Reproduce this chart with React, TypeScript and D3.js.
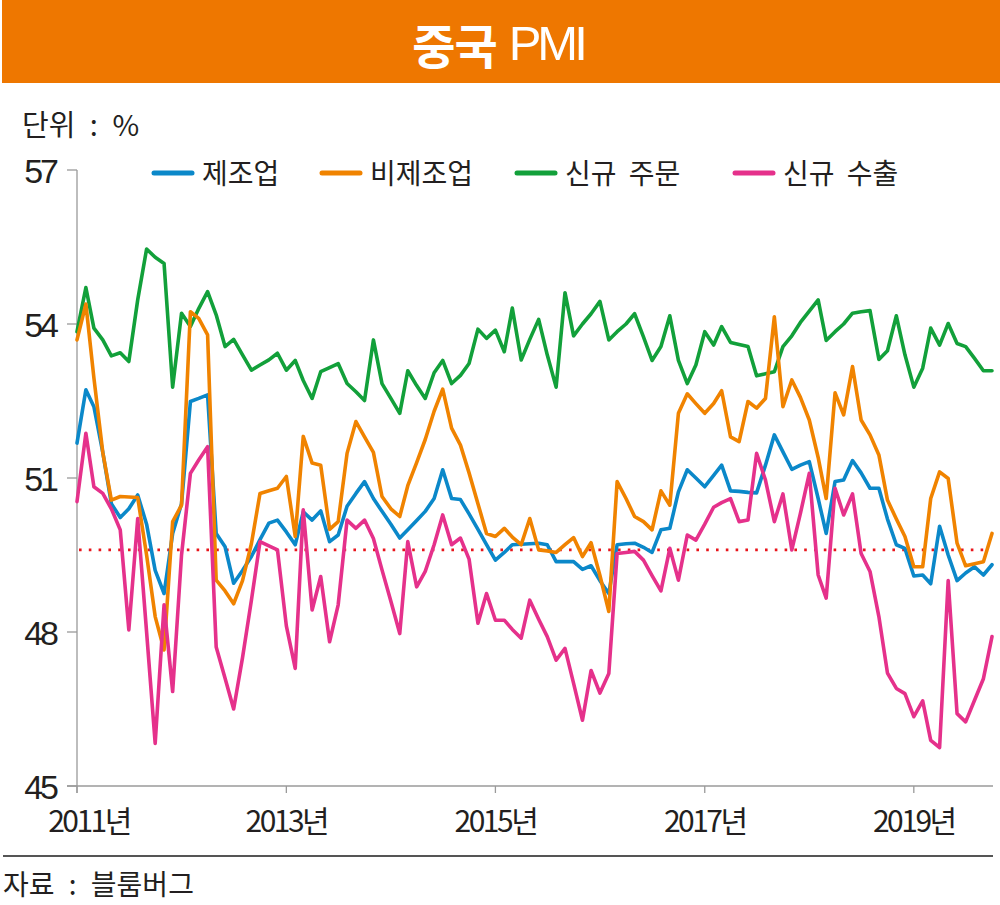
import React from "react";
import * as d3 from "d3";

// ---------- data ----------
const months: Date[] = d3.timeMonth.range(new Date(2011, 0, 1), new Date(2019, 10, 1)); // Jan 2011 .. Oct 2019

const manufacturing = [
  51.68, 52.72, 52.39, 51.5, 50.5, 50.23, 50.4, 50.67, 50.1, 49.2, 48.75, 49.92,
  50.5, 52.49, 52.55, 52.62, 49.92, 49.66, 48.95, 49.2, 49.47, 49.8, 50.12, 50.18,
  49.95, 49.7, 50.34, 50.18, 50.36, 49.76, 49.89, 50.45, 50.7, 50.93, 50.6, 50.35,
  50.1, 49.83, 49.99, 50.17, 50.35, 50.6, 51.16, 50.6, 50.58, 50.3, 50.0, 49.7,
  49.4, 49.55, 49.7, 49.71, 49.72, 49.73, 49.7, 49.37, 49.37, 49.37, 49.22, 49.29,
  49.0, 48.75, 49.7, 49.72, 49.73, 49.65, 49.55, 49.99, 50.02, 50.73, 51.16, 51.0,
  50.83, 51.05, 51.25, 50.75, 50.74, 50.72, 50.71, 51.25, 51.84, 51.51, 51.17, 51.25,
  51.32, 50.6, 49.92, 50.93, 50.96, 51.34, 51.1, 50.8, 50.8, 50.2, 49.7, 49.63,
  49.09, 49.11, 48.94, 50.06, 49.5, 49.0, 49.15, 49.27, 49.11, 49.31,
];

const nonManufacturing = [
  53.69, 54.39, 52.95, 51.5, 50.57, 50.64, 50.63, 50.62, 49.5, 48.3, 47.65, 50.15,
  50.47, 54.24, 54.11, 53.79, 49.01, 48.8, 48.55, 49.0, 49.72, 50.7, 50.75, 50.8,
  51.03, 49.86, 51.81, 51.29, 51.25, 50.0, 50.15, 51.48, 52.1, 51.8, 51.5, 50.64,
  50.4, 50.25, 50.85, 51.3, 51.75, 52.3, 52.73, 51.97, 51.64, 51.1, 50.5, 49.92,
  49.86, 50.02, 49.85, 49.7, 50.21, 49.6, 49.58, 49.55, 49.7, 49.84, 49.47, 49.74,
  49.1, 48.4, 50.93, 50.6, 50.25, 50.15, 49.99, 50.75, 50.47, 52.26, 52.64, 52.45,
  52.26, 52.45, 52.7, 51.8, 51.71, 52.49, 52.36, 52.55, 54.14, 52.39, 52.91, 52.57,
  52.13, 51.4, 50.6, 52.66, 52.23, 53.17, 52.13, 51.84, 51.45, 50.57, 50.2, 49.86,
  49.27, 49.27, 50.6, 51.12, 50.99, 49.73, 49.29, 49.33, 49.37, 49.92,
];

const newOrders = [
  53.85, 54.71, 53.92, 53.69, 53.38, 53.44, 53.27, 54.47, 55.46, 55.3, 55.18, 52.77,
  54.21, 53.95, 54.3, 54.63, 54.18, 53.56, 53.7, 53.4, 53.1, 53.2, 53.3, 53.43,
  53.1, 53.29, 52.9, 52.55, 53.07, 53.15, 53.23, 52.84, 52.68, 52.51, 53.69, 52.84,
  52.55, 52.26, 53.09, 52.8, 52.55, 53.05, 53.29, 52.84, 53.0, 53.23, 53.9, 53.72,
  53.88, 53.46, 54.31, 53.3, 53.7, 54.09, 53.4, 52.77, 54.61, 53.77, 54.0, 54.2,
  54.44, 53.69, 53.85, 54.0, 54.2, 53.75, 53.29, 53.56, 54.16, 53.29, 52.84, 53.2,
  53.85, 53.59, 53.95, 53.64, 53.6, 53.56, 52.99, 53.03, 53.07, 53.56, 53.77, 54.03,
  54.25, 54.47, 53.68, 53.85, 54.0, 54.21, 54.24, 54.26, 53.31, 53.48, 54.16, 53.4,
  52.77, 53.14, 53.92, 53.59, 54.01, 53.62, 53.56, 53.33, 53.09, 53.09,
];

const newExports = [
  50.54, 51.87, 50.83, 50.7, 50.4, 49.99, 48.04, 50.21, 48.0, 45.83, 48.53, 46.84,
  49.5, 51.09, 51.35, 51.61, 47.71, 47.1, 46.5, 47.5, 48.62, 49.76, 49.68, 49.6,
  48.12, 47.29, 50.38, 48.43, 49.08, 47.81, 48.53, 50.18, 50.02, 50.18, 49.82, 49.21,
  48.6, 47.97, 49.76, 48.88, 49.18, 49.7, 50.28, 49.7, 49.83, 49.42, 48.17, 48.75,
  48.23, 48.23, 48.05, 47.88, 48.62, 48.25, 47.91, 47.45, 47.68, 47.0, 46.28, 47.25,
  46.81, 47.19, 49.53, 49.55, 49.57, 49.4, 49.1, 48.8, 49.63, 49.01, 49.89, 49.79,
  50.1, 50.43, 50.52, 50.6, 50.15, 50.18, 51.48, 50.96, 50.15, 50.69, 49.6, 50.31,
  51.09, 49.11, 48.66, 50.8, 50.28, 50.69, 49.53, 49.18, 48.3, 47.2, 46.9, 46.8,
  46.35, 46.66, 45.89, 45.75, 49.0, 46.41, 46.25, 46.67, 47.09, 47.91,
];

const seriesNames = ["제조업", "비제조업", "신규 주문", "신규 수출"];
const seriesColors = ["#0b88c9", "#f08300", "#12a03a", "#e5318b"];
const yTicks = [45, 48, 51, 54, 57];
const xTickYears = [2011, 2013, 2015, 2017, 2019];
const xTickLabels = ["2011년", "2013년", "2015년", "2017년", "2019년"];
const referenceValue = 49.6;
const titleKorean = "중국";
const titleLatin = "PMI";
const unitText = "단위 : %";
const sourceText = "자료 : 블룸버그";

// ---------- component ----------
export default function App() {
  const W = 1000;
  const H = 905;
  const x = d3
    .scaleTime()
    .domain([new Date(2011, 0, 1), new Date(2019, 9, 1)])
    .range([77, 992]);
  const y = d3.scaleLinear().domain([45, 57]).range([786, 170]);

  const line = d3
    .line<number>()
    .x((_, i) => x(months[i]))
    .y((d) => y(d))
    .curve(d3.curveLinear);

  const series = [manufacturing, nonManufacturing, newOrders, newExports];
  const drawOrder = [2, 0, 1, 3];

  const axisColor = "#9a9a9a";
  const textColor = "#231f20";
  const krFont = "'Noto Sans CJK KR', 'Noto Sans', sans-serif";
  const numFont = "'Liberation Sans', Arial, sans-serif";

  const legendX = [152, 320, 515, 733];
  const xLeft = x.range()[0];
  const xRight = 993;

  return (
    <svg
      width={W}
      height={H}
      viewBox={`0 0 ${W} ${H}`}
      style={{ position: "absolute", left: 0, top: 0, background: "#fff" }}
    >
      {/* title banner */}
      <rect x={2} y={0} width={998} height={83} fill="#ee7700" />
      <text
        x={498}
        y={43}
        textAnchor="middle"
        dominantBaseline="central"
        fill="#fff"
        fontFamily={krFont}
        fontSize={47}
      >
        <tspan fontWeight={700} letterSpacing={-1}>{titleKorean}</tspan>
        <tspan dx={12} fontFamily={numFont} fontWeight={400} fontSize={49} letterSpacing={-4}>
          {titleLatin}
        </tspan>
      </text>

      {/* unit */}
      <text
        x={22}
        y={123}
        dominantBaseline="central"
        fill={textColor}
        fontFamily={krFont}
        fontSize={29}
        wordSpacing={8}
      >
        {unitText}
      </text>

      {/* legend */}
      {seriesNames.map((name, i) => (
        <g key={name}>
          <line
            x1={legendX[i] + 2}
            x2={legendX[i] + 40}
            y1={173}
            y2={173}
            stroke={seriesColors[i]}
            strokeWidth={5}
            strokeLinecap="round"
          />
          <text
            x={legendX[i] + 50}
            y={172}
            dominantBaseline="central"
            fill={textColor}
            fontFamily={krFont}
            fontSize={28}
            wordSpacing={6}
          >
            {name}
          </text>
        </g>
      ))}

      {/* axes */}
      <line x1={xLeft} x2={xLeft} y1={y(57)} y2={y(45) + 7} stroke={axisColor} strokeWidth={1.3} />
      <line x1={xLeft - 10} x2={xRight} y1={y(45)} y2={y(45)} stroke={axisColor} strokeWidth={1.3} />
      {yTicks.map((t) => (
        <g key={t}>
          <line x1={xLeft - 10} x2={xLeft} y1={y(t)} y2={y(t)} stroke={axisColor} strokeWidth={1.3} />
          <text
            x={56}
            y={y(t) + 1}
            textAnchor="end"
            dominantBaseline="central"
            fill={textColor}
            fontFamily={numFont}
            fontSize={34}
            letterSpacing={-3}
          >
            {t}
          </text>
        </g>
      ))}
      {xTickYears.map((yr, i) => {
        const px = x(new Date(yr, 0, 1));
        return (
          <g key={yr}>
            <line x1={px} x2={px} y1={y(45)} y2={y(45) + 7} stroke={axisColor} strokeWidth={1.3} />
            <text
              x={i === 0 ? px + 12 : px}
              y={819}
              textAnchor="middle"
              dominantBaseline="central"
              fill={textColor}
              fontFamily={krFont}
              fontSize={30}
              letterSpacing={-2.5}
            >
              {xTickLabels[i]}
            </text>
          </g>
        );
      })}

      {/* reference dotted line */}
      <line
        x1={xLeft + 2}
        x2={xRight - 3}
        y1={y(referenceValue)}
        y2={y(referenceValue)}
        stroke="#e8141b"
        strokeWidth={2.6}
        strokeDasharray="2.6 7.2"
      />

      {/* series lines */}
      {drawOrder.map((si) => (
        <path
          key={si}
          d={line(series[si]) || ""}
          fill="none"
          stroke={seriesColors[si]}
          strokeWidth={3.6}
          strokeLinejoin="round"
          strokeLinecap="round"
        />
      ))}

      {/* bottom rule and source */}
      <line x1={3} x2={993} y1={856} y2={856} stroke="#555" strokeWidth={2} />
      <text
        x={3}
        y={883}
        dominantBaseline="central"
        fill={textColor}
        fontFamily={krFont}
        fontSize={28}
        wordSpacing={8}
      >
        {sourceText}
      </text>
    </svg>
  );
}
